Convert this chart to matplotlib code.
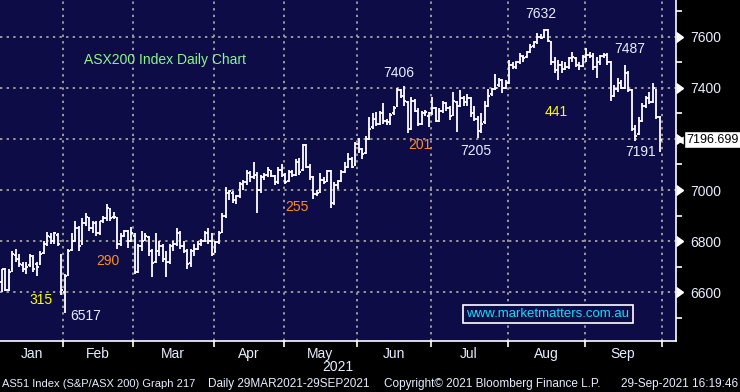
import matplotlib
matplotlib.use('Agg')
import matplotlib.pyplot as plt
import numpy as np

plt.rcParams['font.family'] = ['Liberation Sans', 'DejaVu Sans']

# daily OHLC bars (one entry per trading day)
opens = [6640, 6690, 6610, 6690, 6745, 6730, 6705, 6690, 6705, 6735,
         6710, 6710, 6755, 6790, 6815, 6800, 6825, 6740, 6600, 6670,
         6765, 6800, 6850, 6790, 6870, 6890, 6850, 6870, 6830, 6880,
         6890, 6925, 6895, 6890, 6790, 6820, 6840, 6800, 6820, 6680,
         6780, 6805, 6815, 6760, 6720, 6760, 6780, 6730, 6720, 6780,
         6790, 6830, 6780, 6760, 6715, 6760, 6770, 6790, 6800, 6830,
         6800, 6760, 6795, 6835, 6900, 6990, 6990, 6960, 6975, 7020,
         7030, 7065, 7050, 7060, 7000, 7050, 7060, 7075, 7055, 7030,
         7080, 7060, 7035, 7070, 7060, 7110, 7080, 7175, 7090, 7050,
         6985, 6995, 7040, 7035, 7075, 6950, 7020, 7035, 7070, 7090,
         7120, 7100, 7180, 7160, 7145, 7200, 7245, 7280, 7260, 7300,
         7270, 7265, 7300, 7330, 7390, 7370, 7345, 7240, 7350, 7310,
         7260, 7300, 7290, 7300, 7320, 7270, 7310, 7340, 7320, 7295,
         7345, 7330, 7360, 7345, 7360, 7300, 7280, 7230, 7265, 7330,
         7375, 7395, 7410, 7430, 7400, 7420, 7490, 7480, 7500, 7520,
         7520, 7540, 7565, 7580, 7600, 7600, 7625, 7580, 7500, 7470,
         7490, 7475, 7480, 7515, 7515, 7490, 7485, 7520, 7530, 7525,
         7480, 7500, 7525, 7530, 7500, 7370, 7395, 7420, 7400, 7460,
         7390, 7240, 7220, 7270, 7330, 7360, 7345, 7390, 7285]
highs = [6690, 6695, 6690, 6760, 6770, 6750, 6720, 6720, 6750, 6745,
         6720, 6760, 6800, 6835, 6830, 6835, 6830, 6750, 6670, 6770,
         6830, 6880, 6860, 6890, 6910, 6895, 6880, 6880, 6880, 6900,
         6945, 6930, 6915, 6895, 6830, 6845, 6845, 6855, 6830, 6790,
         6840, 6830, 6820, 6770, 6830, 6800, 6790, 6760, 6790, 6800,
         6850, 6840, 6800, 6770, 6770, 6790, 6800, 6810, 6840, 6850,
         6830, 6800, 6840, 6910, 7010, 7000, 6995, 6980, 7030, 7040,
         7080, 7075, 7110, 7070, 7060, 7065, 7090, 7080, 7060, 7090,
         7100, 7065, 7080, 7080, 7120, 7125, 7180, 7180, 7100, 7055,
         7000, 7065, 7050, 7080, 7080, 7030, 7040, 7080, 7110, 7145,
         7130, 7190, 7205, 7165, 7210, 7285, 7300, 7305, 7310, 7340,
         7280, 7300, 7330, 7400, 7395, 7406, 7350, 7365, 7355, 7320,
         7310, 7315, 7305, 7365, 7325, 7320, 7350, 7345, 7330, 7385,
         7350, 7390, 7370, 7375, 7365, 7330, 7290, 7300, 7350, 7395,
         7400, 7455, 7440, 7435, 7430, 7510, 7500, 7505, 7535, 7530,
         7545, 7570, 7585, 7615, 7610, 7632, 7630, 7585, 7520, 7510,
         7505, 7500, 7520, 7540, 7520, 7500, 7530, 7555, 7540, 7535,
         7520, 7530, 7535, 7535, 7505, 7410, 7440, 7430, 7488, 7465,
         7395, 7255, 7285, 7340, 7370, 7385, 7418, 7395, 7290]
lows = [6600, 6605, 6605, 6680, 6720, 6700, 6680, 6670, 6700, 6680,
        6665, 6705, 6750, 6780, 6790, 6790, 6780, 6590, 6517, 6665,
        6760, 6795, 6760, 6785, 6860, 6840, 6830, 6820, 6825, 6870,
        6880, 6880, 6885, 6770, 6780, 6815, 6775, 6795, 6670, 6675,
        6760, 6800, 6740, 6660, 6715, 6740, 6720, 6660, 6710, 6760,
        6780, 6770, 6755, 6690, 6700, 6740, 6765, 6780, 6795, 6790,
        6740, 6755, 6790, 6830, 6890, 6960, 6950, 6945, 6970, 7000,
        7020, 7030, 7045, 6910, 6990, 7040, 7050, 7050, 7020, 7025,
        7050, 7025, 7030, 7050, 7055, 7060, 7075, 7085, 7040, 6965,
        6975, 6990, 7025, 7030, 6930, 6940, 7005, 7030, 7065, 7085,
        7085, 7095, 7145, 7120, 7140, 7195, 7240, 7250, 7255, 7260,
        7255, 7255, 7295, 7325, 7360, 7330, 7222, 7235, 7305, 7250,
        7255, 7290, 7245, 7295, 7265, 7265, 7300, 7310, 7275, 7290,
        7227, 7325, 7330, 7330, 7285, 7270, 7205, 7225, 7260, 7325,
        7370, 7390, 7405, 7380, 7395, 7415, 7475, 7475, 7495, 7500,
        7515, 7535, 7555, 7570, 7590, 7595, 7580, 7490, 7460, 7430,
        7460, 7470, 7475, 7500, 7480, 7470, 7480, 7500, 7515, 7470,
        7440, 7490, 7515, 7490, 7350, 7365, 7385, 7395, 7395, 7385,
        7230, 7191, 7215, 7265, 7320, 7335, 7340, 7280, 7150]
closes = [6690, 6610, 6680, 6750, 6730, 6710, 6690, 6700, 6740, 6690,
          6700, 6750, 6790, 6820, 6800, 6830, 6790, 6607, 6664, 6760,
          6800, 6850, 6780, 6870, 6895, 6850, 6870, 6830, 6880, 6890,
          6930, 6890, 6895, 6790, 6820, 6840, 6800, 6830, 6680, 6780,
          6800, 6820, 6760, 6715, 6760, 6780, 6730, 6720, 6780, 6790,
          6830, 6780, 6760, 6710, 6760, 6770, 6790, 6800, 6830, 6800,
          6750, 6795, 6830, 6900, 6990, 6995, 6960, 6975, 7025, 7030,
          7065, 7050, 7060, 7000, 7050, 7060, 7080, 7055, 7030, 7080,
          7060, 7030, 7070, 7060, 7110, 7070, 7175, 7090, 7050, 6985,
          6990, 7040, 7030, 7075, 6950, 7020, 7035, 7070, 7090, 7120,
          7090, 7180, 7160, 7140, 7200, 7240, 7280, 7260, 7300, 7270,
          7265, 7295, 7320, 7390, 7370, 7350, 7240, 7350, 7310, 7260,
          7300, 7305, 7300, 7320, 7270, 7310, 7340, 7320, 7290, 7350,
          7330, 7360, 7345, 7360, 7300, 7280, 7230, 7260, 7330, 7370,
          7395, 7400, 7430, 7400, 7420, 7490, 7480, 7500, 7525, 7515,
          7540, 7560, 7580, 7600, 7595, 7625, 7585, 7500, 7470, 7490,
          7475, 7480, 7515, 7520, 7490, 7485, 7520, 7530, 7525, 7480,
          7500, 7525, 7530, 7500, 7370, 7395, 7420, 7400, 7460, 7390,
          7240, 7210, 7270, 7330, 7360, 7345, 7400, 7285, 7197]

last_price = 7196.699

month_labels = ['Jan', 'Feb', 'Mar', 'Apr', 'May', 'Jun', 'Jul', 'Aug', 'Sep']
month_first_bar = [0, 18, 38, 61, 81, 102, 123, 145, 167, 189]  # last one = Oct

price_grid = [6600, 6800, 7000, 7200, 7400, 7600]
price_labels = [6600, 6800, 7000, 7400, 7600]  # 7200 sits under the last-price box

# (text, bar index, price, colour)
notes = [
    ('7406', 113.5, 7458, '#e8eeff'),
    ('7632', 154.0, 7689, '#e8eeff'),
    ('7487', 179.5, 7552, '#e8eeff'),
    ('7205', 135.5, 7153, '#e8eeff'),
    ('7191', 182.4, 7149, '#e8eeff'),
    ('6517', 24.0, 6507, '#e8eeff'),
    ('441', 158.4, 7305, '#ffff00'),
    ('201', 119.5, 7176, '#ff8c1a'),
    ('255', 84.4, 6933, '#ff8c1a'),
    ('290', 30.4, 6722, '#ff8c1a'),
    ('315', 11.2, 6569, '#ffff00'),
]

navy = '#0d0c47'
txt_col = '#e8eeff'
grid_kw = dict(color='#9a9a9a', lw=1.4, ls=(0, (1.2, 2.2)), zorder=1)

fig = plt.figure(figsize=(7.4, 3.92), dpi=100, facecolor='black')
ax = fig.add_axes([0, 51 / 392, 676 / 740, 341 / 392])
ax.set_facecolor(navy)

x = np.arange(len(closes))
ax.vlines(x, lows, highs, color='white', lw=1.3, zorder=3)
ax.hlines(opens, x - 0.5, x, color='white', lw=1.3, zorder=3)
ax.hlines(closes, x, x + 0.5, color='white', lw=1.3, zorder=3)

ax.set_xlim(-0.5, 192.6)
ax.set_ylim(6409, 7744)

# grid
for p in price_grid:
    ax.axhline(p, **grid_kw)
bounds = [b - 0.5 for b in month_first_bar]
for b in bounds[1:]:
    ax.axvline(b, **grid_kw)

# spines
for s in ['top', 'left']:
    ax.spines[s].set_visible(False)
for s in ['right', 'bottom']:
    ax.spines[s].set_color('white')
    ax.spines[s].set_linewidth(1.2)

# right price axis
ax.yaxis.tick_right()
ax.set_yticks(price_labels)
ax.set_yticklabels([str(p) for p in price_labels])
ax.set_yticks([6500, 6700, 6900, 7100, 7300, 7500, 7700], minor=True)
ax.tick_params(axis='y', which='major', length=0, pad=10, labelsize=10,
               labelcolor=txt_col)
ax.tick_params(axis='y', which='minor', length=4, width=1.2, color='white')
ytr = ax.get_yaxis_transform()
ax.plot([1.0] * len(price_grid), price_grid, ls='none', marker=9, ms=7,
        color='white', transform=ytr, clip_on=False, zorder=5)

# bottom month axis
ax.set_xticks(bounds[1:])
ax.set_xticklabels([])
ax.tick_params(axis='x', which='major', length=4, width=1.2, color='white')
centers = [(bounds[i] + bounds[i + 1]) / 2 for i in range(len(month_labels))]
ax.set_xticks(centers, minor=True)
ax.set_xticklabels(month_labels, minor=True)
ax.tick_params(axis='x', which='minor', length=0, pad=4, labelsize=10,
               labelcolor=txt_col)

# chart notes
ax.text(46.6, 7509, 'ASX200 Index Daily Chart', color='#8cf58c', fontsize=10,
        ha='center', va='center', zorder=6)
for txt, xi, yp, col in notes:
    ax.text(xi, yp, txt, color=col, fontsize=10, ha='center', va='center', zorder=6)

ax.text(156, 6515, 'www.marketmatters.com.au', color='#19d9f5', fontsize=9.5,
        ha='center', va='center', zorder=6,
        bbox=dict(boxstyle='square,pad=0.25', fc=navy, ec='white', lw=1.2))

# last price tag
ax.plot([1.0 + 6 / 676], [last_price], ls='none', marker='<', ms=7,
        color='white', transform=ytr, clip_on=False, zorder=6)
ax.text(1.0 + 10 / 676, last_price, f'{last_price:.3f}', color='black',
        fontsize=9, ha='left', va='center', transform=ytr, zorder=7,
        bbox=dict(boxstyle='square,pad=0.2', fc='white', ec='black', lw=1))

# year and footer
fig.text(338 / 740, 1 - 367 / 392, '2021', color=txt_col, fontsize=10,
         ha='center', va='center')
foot_y = 1 - 384 / 392
fig.text(2 / 740, foot_y, 'AS51 Index (S&P/ASX 200) Graph 217',
         color=txt_col, fontsize=8, ha='left', va='center')
fig.text(208 / 740, foot_y, 'Daily 29MAR2021-29SEP2021',
         color=txt_col, fontsize=8.5, ha='left', va='center')
fig.text(384 / 740, foot_y, 'Copyright\u00a9 2021 Bloomberg Finance L.P.',
         color=txt_col, fontsize=8.5, ha='left', va='center')
fig.text(738 / 740, foot_y, '29-Sep-2021 16:19:46',
         color=txt_col, fontsize=8.5, ha='right', va='center')

fig.savefig('out.png', dpi=100, facecolor='black')
